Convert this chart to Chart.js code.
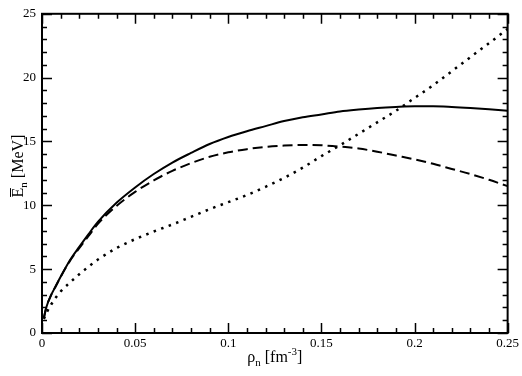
<!DOCTYPE html>
<html><head><meta charset="utf-8">
<script src="https://cdn.jsdelivr.net/npm/chart.js@4/dist/chart.umd.min.js"></script>
<style>html,body{margin:0;padding:0;background:#fff}</style>
</head><body>
<canvas id="c" width="522" height="376"></canvas>
<script>
const rho    = [0.001,0.0025,0.005,0.0075,0.01,0.015,0.02,0.025,0.03,0.04,0.05,0.06,0.07,0.08,0.09,0.10,0.11,0.12,0.13,0.14,0.15,0.16,0.17,0.18,0.19,0.20,0.21,0.22,0.23,0.24,0.25];
const solidE = [1.2,2.1,3.0,3.7,4.4,5.7,6.75,7.75,8.7,10.2,11.4,12.45,13.35,14.1,14.8,15.35,15.8,16.2,16.6,16.9,17.12,17.35,17.5,17.62,17.7,17.75,17.75,17.7,17.62,17.52,17.4];
const dashE  = [1.2,2.1,3.0,3.7,4.4,5.65,6.65,7.6,8.55,9.95,11.05,11.95,12.7,13.3,13.8,14.15,14.4,14.58,14.68,14.72,14.7,14.6,14.45,14.2,13.9,13.6,13.25,12.85,12.45,12.0,11.5];
const dotE   = [1.1,1.6,2.25,2.8,3.25,3.95,4.6,5.2,5.75,6.65,7.35,7.95,8.5,9.1,9.7,10.25,10.8,11.45,12.15,12.95,13.85,14.7,15.6,16.5,17.4,18.4,19.4,20.5,21.6,22.7,23.8];
const xTickValues = [0,0.05,0.1,0.15,0.2,0.25];
const xTickLabels = ['0','0.05','0.1','0.15','0.2','0.25'];
const yTickValues = [0,5,10,15,20,25];
const yTickLabels = ['0','5','10','15','20','25'];

const pts = ys => rho.map((x,i)=>({x:x,y:ys[i]}));
const FONT = 'Liberation Serif';

const framePlugin = {
  id:'frame',
  afterDraw(chart){
    const ctx = chart.ctx, a = chart.chartArea;
    const xs = chart.scales.x, ys = chart.scales.y;
    ctx.save();
    ctx.strokeStyle = '#000';
    ctx.lineWidth = 2;
    ctx.strokeRect(a.left, a.top, a.right-a.left, a.bottom-a.top);
    ctx.lineWidth = 1.5;
    ctx.beginPath();
    for (let k=0;k<=25;k++){
      const v = k*0.01, px = Math.round(xs.getPixelForValue(v))+0.5;
      const len = (k%5===0)?10:5;
      ctx.moveTo(px,a.bottom); ctx.lineTo(px,a.bottom-len);
      ctx.moveTo(px,a.top); ctx.lineTo(px,a.top+len);
    }
    for (let k=0;k<=25;k++){
      const py = Math.round(ys.getPixelForValue(k))+0.5;
      const len = (k%5===0)?10:5;
      ctx.moveTo(a.left,py); ctx.lineTo(a.left+len,py);
      ctx.moveTo(a.right,py); ctx.lineTo(a.right-len,py);
    }
    ctx.stroke();

    ctx.fillStyle = '#000';
    ctx.textBaseline = 'alphabetic';
    const big = '16px "'+FONT+'"', sm = '11px "'+FONT+'"';
    const parts = [['ρ',big,0],['n',sm,4],[' [fm',big,0],['-3',sm,-7],[']',big,0]];
    let w=0; parts.forEach(p=>{ctx.font=p[1]; w+=ctx.measureText(p[0]).width;});
    let x0 = (a.left+a.right)/2 - w/2, base = 362;
    parts.forEach(p=>{ctx.font=p[1]; ctx.fillText(p[0],x0,base+p[2]); x0+=ctx.measureText(p[0]).width;});
    ctx.save();
    ctx.translate(23, 166);
    ctx.rotate(-Math.PI/2);
    const yparts = [['E',big,0],['n',sm,4],[' [MeV]',big,0]];
    w=0; yparts.forEach(p=>{ctx.font=p[1]; w+=ctx.measureText(p[0]).width;});
    x0 = -w/2;
    yparts.forEach((p,i)=>{
      ctx.font=p[1]; const tw = ctx.measureText(p[0]).width;
      ctx.fillText(p[0],x0,p[2]);
      if(i===0){ ctx.lineWidth=1; ctx.beginPath(); ctx.moveTo(x0+0.5,-12.5); ctx.lineTo(x0+tw-0.5,-12.5); ctx.stroke(); }
      x0+=tw;
    });
    ctx.restore();
    ctx.restore();
  }
};

new Chart(document.getElementById('c'), {
  type:'line',
  data:{datasets:[
    {data:pts(solidE), borderColor:'#000', borderWidth:2, pointRadius:0, cubicInterpolationMode:'monotone', fill:false},
    {data:pts(dashE), borderColor:'#000', borderWidth:2, borderDash:[10,5], pointRadius:0, cubicInterpolationMode:'monotone', fill:false},
    {data:pts(dotE), borderColor:'#000', borderWidth:2.5, borderDash:[2.5,5.5], pointRadius:0, cubicInterpolationMode:'monotone', fill:false}
  ]},
  options:{
    responsive:false, animation:false,
    layout:{padding:{left:0,right:13,top:6,bottom:0}},
    plugins:{legend:{display:false}, tooltip:{enabled:false}},
    scales:{
      x:{type:'linear', min:0, max:0.25,
        afterBuildTicks(s){ s.ticks = xTickValues.map(v=>({value:v})); },
        afterFit(s){ s.height = 43; },
        ticks:{callback:(v,i)=>xTickLabels[i], font:{family:FONT,size:13}, color:'#000', padding:3, maxRotation:0, autoSkip:false},
        grid:{display:false, drawTicks:false}, border:{display:false}},
      y:{type:'linear', min:0, max:25,
        afterBuildTicks(s){ s.ticks = yTickValues.map(v=>({value:v})); },
        afterFit(s){ s.width = 42; },
        ticks:{callback:(v,i)=>yTickLabels[i], font:{family:FONT,size:13}, color:'#000', padding:6, autoSkip:false},
        grid:{display:false, drawTicks:false}, border:{display:false}}
    }
  },
  plugins:[framePlugin]
});
</script>
</body></html>
